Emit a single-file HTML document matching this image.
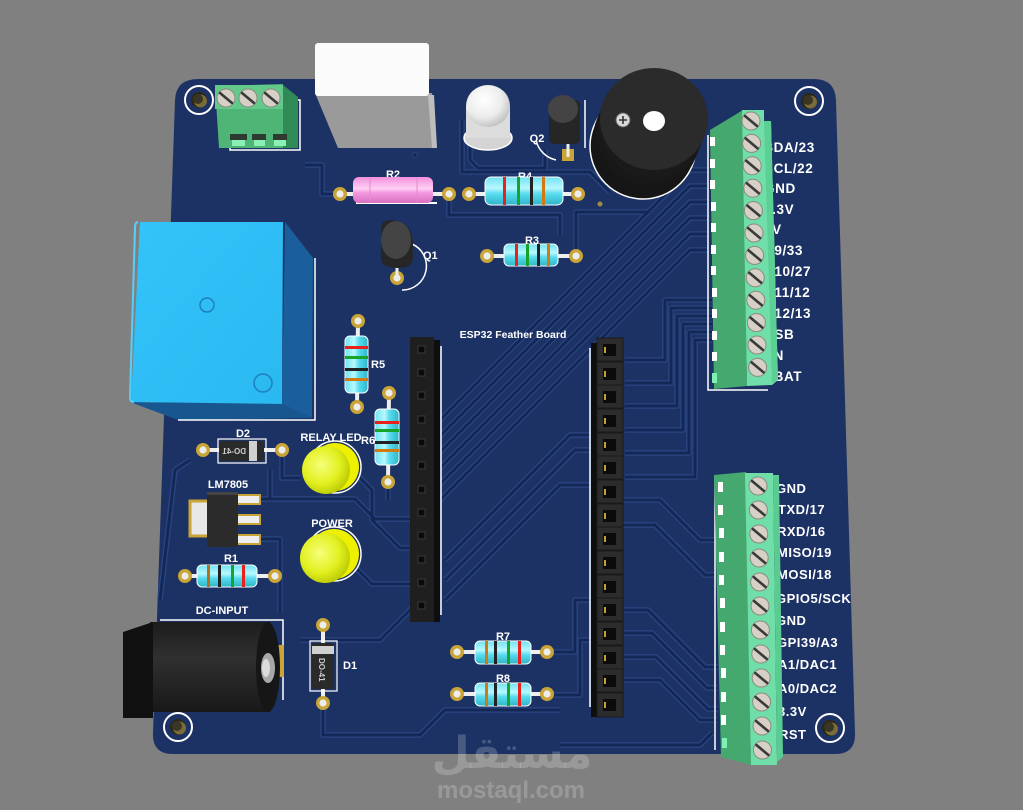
<!DOCTYPE html>
<html><head><meta charset="utf-8">
<style>
html,body{margin:0;padding:0;background:#808080;}
svg{display:block}
text{font-family:"Liberation Sans","DejaVu Sans",sans-serif;font-weight:bold;fill:#fff}
</style></head>
<body>
<svg width="1023" height="810" viewBox="0 0 1023 810" xmlns="http://www.w3.org/2000/svg">
<defs>
  <linearGradient id="rh" x1="0" y1="0" x2="0" y2="1">
    <stop offset="0" stop-color="#6fe2f0"/><stop offset="0.4" stop-color="#b8f8ff"/>
    <stop offset="0.6" stop-color="#58dcef"/><stop offset="1" stop-color="#2fb4c8"/>
  </linearGradient>
  <linearGradient id="rv" x1="0" y1="0" x2="1" y2="0">
    <stop offset="0" stop-color="#6fe2f0"/><stop offset="0.4" stop-color="#b8f8ff"/>
    <stop offset="0.6" stop-color="#58dcef"/><stop offset="1" stop-color="#2fb4c8"/>
  </linearGradient>
  <linearGradient id="pk" x1="0" y1="0" x2="0" y2="1">
    <stop offset="0" stop-color="#f190dc"/><stop offset="0.45" stop-color="#ffd0f4"/>
    <stop offset="0.6" stop-color="#f49ae2"/><stop offset="1" stop-color="#d870c0"/>
  </linearGradient>
  <radialGradient id="yl" cx="0.4" cy="0.4" r="0.65">
    <stop offset="0" stop-color="#f6ff7a"/><stop offset="0.6" stop-color="#e2f020"/><stop offset="1" stop-color="#b8c800"/>
  </radialGradient>
  <radialGradient id="wl" cx="0.4" cy="0.35" r="0.7">
    <stop offset="0" stop-color="#ffffff"/><stop offset="0.6" stop-color="#ececec"/><stop offset="1" stop-color="#bdbdbd"/>
  </radialGradient>
  <linearGradient id="cyl" x1="0" y1="0" x2="0" y2="1">
    <stop offset="0" stop-color="#1c1c1c"/><stop offset="0.4" stop-color="#303030"/><stop offset="1" stop-color="#181818"/>
  </linearGradient>
  <linearGradient id="relay" x1="0" y1="0" x2="1" y2="1">
    <stop offset="0" stop-color="#33c4fa"/><stop offset="1" stop-color="#2ab8f0"/>
  </linearGradient>
  <g id="screw"><circle r="9" fill="#d6d0c6" stroke="#8d8a80" stroke-width="1"/><line x1="-6" y1="-5" x2="6" y2="5" stroke="#3a3a3a" stroke-width="2.6" stroke-linecap="round"/></g>
  <g id="pad"><circle r="7" fill="#c9a437"/><circle r="3.6" fill="#ececec"/></g>
  <g id="hole"><circle r="14" fill="#1c3265" stroke="#ffffff" stroke-width="2"/><circle r="8" fill="#2a2818"/><circle cx="1.5" cy="1" r="6.5" fill="#7a6c38"/><circle cx="-1" cy="-1" r="5" fill="#3a3626"/></g>
  <g id="traces">
    <path d="M440,420 L690,170 H709"/>
    <path d="M440,436 L690,186 H709"/>
    <path d="M440,452 L690,202 H709"/>
    <path d="M440,468 L690,218 H709"/>
    <path d="M440,484 L690,234 H709"/>
    <path d="M440,500 L690,250 H709"/>
    <path d="M712,300 H665 V360 H625"/>
    <path d="M712,308 H671 V383 H625"/>
    <path d="M712,316 H677 V406 H625"/>
    <path d="M712,324 H683 V430 H625"/>
    <path d="M712,332 H689 V453 H625"/>
    <path d="M712,340 H695 V477 H625"/>
    <path d="M623,500 H660 L700,540 H716"/>
    <path d="M623,525 H655 L705,575 H716"/>
    <path d="M623,610 H648 L705,667 H718"/>
    <path d="M623,633 H652 L707,688 H718"/>
    <path d="M623,657 H656 L708,709 H718"/>
    <path d="M623,680 H660 L700,720 H718"/>
    <path d="M560,745 H700 L712,733"/>
    <path d="M576,256 V212 H650"/>
    <path d="M470,110 V160 L478,168 H545 V150"/>
    <path d="M462,120 V172 H590 L610,192"/>
    <path d="M337,194 H322 V165 H305"/>
    <path d="M449,194 V215 H560 V235"/>
    <path d="M282,451 V478 H300"/>
    <path d="M258,499 H355 L375,519 H410"/>
    <path d="M258,539 H280 V612"/>
    <path d="M270,470 V498"/>
    <path d="M352,470 L372,490 V520 L400,548 H410"/>
    <path d="M350,562 L372,584 H410"/>
    <path d="M388,482 V500"/>
    <path d="M323,703 V735 H420 L445,710 H560"/>
    <path d="M300,640 H380 L420,600"/>
    <path d="M445,560 L570,435 H596"/>
    <path d="M445,580 L575,450 H596"/>
    <path d="M445,600 L560,485 H596"/>
    <path d="M548,652 H575 V600 H596"/>
    <path d="M548,695 H580 V640 H596"/>
    <path d="M160,600 L175,470 L190,460"/>
  </g>
</defs>

<rect width="1023" height="810" fill="#808080"/>

<!-- board -->
<path d="M198,79 L814,79 Q835,79 836,100 L855,733 Q856,754 835,754 L173,754 Q152,754 153,733 L175,100 Q176,79 198,79 Z" fill="#1c3265"/>

<!-- traces -->
<use href="#traces" fill="none" stroke="#2a4682" stroke-width="5.5" stroke-linejoin="round"/>
<use href="#traces" fill="none" stroke="#142858" stroke-width="3" stroke-linejoin="round"/>

<!-- mounting holes -->
<use href="#hole" x="199" y="100"/>
<use href="#hole" x="809" y="101"/>
<use href="#hole" x="178" y="727"/>
<use href="#hole" x="830" y="728"/>

<!-- top-left terminal block -->
<rect x="230" y="100" width="70" height="50" fill="none" stroke="#fff" stroke-width="1.5"/>
<polygon points="283,85 298,97 298,148 283,148" fill="#2f8a55"/>
<polygon points="215,86 283,84 283,148 219,148" fill="#4fb577"/>
<rect x="215" y="85" width="68" height="24" fill="#62c98a"/>
<use href="#screw" x="226" y="98"/>
<use href="#screw" x="248" y="98"/>
<use href="#screw" x="271" y="98"/>
<rect x="230" y="134" width="17" height="6" fill="#2e3a32"/>
<rect x="252" y="134" width="14" height="6" fill="#2e3a32"/>
<rect x="273" y="134" width="14" height="6" fill="#2e3a32"/>
<rect x="232" y="140" width="13" height="6" fill="#8af0b4"/>
<rect x="254" y="140" width="11" height="6" fill="#8af0b4"/>
<rect x="274" y="140" width="12" height="6" fill="#8af0b4"/>

<!-- white box component -->
<polygon points="315,93 432,93 437,148 338,148" fill="#9a9a9a"/>
<polygon points="428,95 434,95 437,148 432,148" fill="#bdbdbd"/>
<rect x="315" y="43" width="114" height="53" rx="3" fill="#fbfbfb"/>
<circle cx="415" cy="155" r="2.5" fill="#142858" stroke="#2a4682"/>

<!-- white LED -->
<ellipse cx="488" cy="138" rx="24" ry="12" fill="#d4d4d4" stroke="#ffffff" stroke-width="1.5"/>
<rect x="466" y="106" width="44" height="32" fill="#dcdcdc"/>
<ellipse cx="488" cy="106" rx="22" ry="21" fill="url(#wl)"/>

<!-- Q2 -->
<path d="M536,140 A26,26 0 0 0 556,160" fill="none" stroke="#fff" stroke-width="1.5"/>
<line x1="585" y1="100" x2="585" y2="148" stroke="#fff" stroke-width="1.5"/>
<rect x="562" y="149" width="12" height="12" fill="#c9a437"/>
<line x1="568" y1="140" x2="568" y2="157" stroke="#eee" stroke-width="3"/>
<rect x="549" y="100" width="31" height="44" rx="5" fill="#262626"/>
<ellipse cx="563" cy="109" rx="15" ry="14" fill="#444"/>
<text x="537" y="142" font-size="11" text-anchor="middle">Q2</text>

<!-- buzzer -->
<circle cx="643" cy="146" r="53" fill="#161616" stroke="#ffffff" stroke-width="1.5"/>
<circle cx="646" cy="139" r="53" fill="#161616"/>
<circle cx="649" cy="132" r="53" fill="#181818"/>
<circle cx="652" cy="125" r="53" fill="#1a1a1a"/>
<ellipse cx="654" cy="119" rx="54" ry="51" fill="#2b2b2b"/>
<ellipse cx="654" cy="121" rx="11" ry="10" fill="#ffffff"/>
<circle cx="623" cy="120" r="7" fill="#d9d9d9" stroke="#666" stroke-width="1"/>
<path d="M619,120 H627 M623,116 V124" stroke="#333" stroke-width="1.6"/>
<circle cx="600" cy="204" r="2.5" fill="#a08a40"/>

<!-- R2 pink -->
<line x1="340" y1="194" x2="449" y2="194" stroke="#eee" stroke-width="4"/>
<use href="#pad" x="340" y="194"/>
<use href="#pad" x="449" y="194"/>
<text x="393" y="178" font-size="11" text-anchor="middle">R2</text>
<rect x="356" y="202" width="81" height="2" fill="#fff"/>
<rect x="353" y="177" width="80" height="26" rx="6" fill="url(#pk)"/>
<line x1="370" y1="178" x2="370" y2="202" stroke="#e48ad2" stroke-width="1"/>
<line x1="417" y1="178" x2="417" y2="202" stroke="#e48ad2" stroke-width="1"/>

<!-- R4 -->
<line x1="469" y1="194" x2="578" y2="194" stroke="#eee" stroke-width="4"/>
<use href="#pad" x="469" y="194"/>
<use href="#pad" x="578" y="194"/>
<text x="525" y="180" font-size="11" text-anchor="middle">R4</text>
<rect x="485" y="177" width="78" height="28" rx="6" fill="url(#rh)" stroke="#fff" stroke-width="1"/>
<rect x="503" y="177" width="3" height="28" fill="#e8221a"/>
<rect x="517" y="177" width="3" height="28" fill="#16a528"/>
<rect x="530" y="177" width="3" height="28" fill="#222"/>
<rect x="542" y="177" width="3" height="28" fill="#d07a10"/>

<!-- R3 -->
<line x1="487" y1="256" x2="576" y2="256" stroke="#eee" stroke-width="4"/>
<use href="#pad" x="487" y="256"/>
<use href="#pad" x="576" y="256"/>
<text x="532" y="244" font-size="11" text-anchor="middle">R3</text>
<rect x="504" y="244" width="54" height="22" rx="5" fill="url(#rh)" stroke="#fff" stroke-width="1"/>
<rect x="515" y="244" width="3" height="22" fill="#e8221a"/>
<rect x="526" y="244" width="3" height="22" fill="#16a528"/>
<rect x="537" y="244" width="3" height="22" fill="#222"/>
<rect x="547" y="244" width="3" height="22" fill="#d07a10"/>

<!-- Relay -->
<polygon points="130,402 282,404 312,418 178,420" fill="#18568f"/>
<polygon points="285,222 313,258 312,418 282,404" fill="#1a5e9c"/>
<polygon points="140,222 283,222 282,404 131,402" fill="url(#relay)"/>
<path d="M138,222 Q135,222 135,228 L130,398 Q130,402 134,402" fill="none" stroke="#55d0fb" stroke-width="2"/>
<circle cx="207" cy="305" r="7" fill="none" stroke="#1d7fc0" stroke-width="1.5"/>
<circle cx="263" cy="383" r="9" fill="none" stroke="#1d7fc0" stroke-width="1.5"/>
<path d="M315,258 V420 H178" fill="none" stroke="#fff" stroke-width="1.5"/>

<!-- Q1 -->
<path d="M412,244 A24,24 0 0 1 402,290" fill="none" stroke="#fff" stroke-width="1.5"/>
<use href="#pad" x="397" y="278"/>
<line x1="397" y1="262" x2="397" y2="276" stroke="#eee" stroke-width="3"/>
<path d="M381,228 Q381,220 392,220 Q413,222 413,245 L413,258 Q413,268 398,268 Q381,268 381,258 Z" fill="#262626"/>
<ellipse cx="396" cy="240" rx="15" ry="19" fill="#444"/>
<text x="423" y="259" font-size="11">Q1</text>

<!-- R5 -->
<line x1="358" y1="321" x2="357" y2="407" stroke="#eee" stroke-width="4"/>
<use href="#pad" x="358" y="321"/>
<use href="#pad" x="357" y="407"/>
<rect x="345" y="336" width="23" height="57" rx="5" fill="url(#rv)" stroke="#fff" stroke-width="1"/>
<rect x="345" y="346" width="23" height="3" fill="#e8221a"/>
<rect x="345" y="356" width="23" height="3" fill="#16a528"/>
<rect x="345" y="368" width="23" height="3" fill="#222"/>
<rect x="345" y="378" width="23" height="3" fill="#d07a10"/>
<text x="371" y="368" font-size="11">R5</text>

<!-- R6 -->
<line x1="389" y1="393" x2="388" y2="482" stroke="#eee" stroke-width="4"/>
<use href="#pad" x="389" y="393"/>
<use href="#pad" x="388" y="482"/>
<rect x="375" y="409" width="24" height="56" rx="5" fill="url(#rv)" stroke="#fff" stroke-width="1"/>
<rect x="375" y="421" width="24" height="3" fill="#e8221a"/>
<rect x="375" y="429" width="24" height="3" fill="#16a528"/>
<rect x="375" y="441" width="24" height="3" fill="#222"/>
<rect x="375" y="449" width="24" height="3" fill="#d07a10"/>
<text x="361" y="444" font-size="11">R6</text>

<!-- D2 -->
<line x1="203" y1="450" x2="282" y2="450" stroke="#eee" stroke-width="4"/>
<use href="#pad" x="203" y="450"/>
<use href="#pad" x="282" y="450"/>
<text x="243" y="437" font-size="11" text-anchor="middle">D2</text>
<rect x="218" y="439" width="48" height="24" fill="none" stroke="#fff" stroke-width="1.2"/>
<rect x="219" y="441" width="45" height="20" rx="3" fill="#2a2a2a"/>
<rect x="249" y="441" width="8" height="20" fill="#d0d0d0"/>
<text transform="translate(246,454) scale(-1,1)" font-size="8" font-weight="normal" style="fill:#ccc">DO-41</text>

<!-- Relay LED -->
<circle cx="335" cy="467" r="26" fill="none" stroke="#fff" stroke-width="1.5"/>
<circle cx="335" cy="467" r="24" fill="#eef000"/>
<circle cx="326" cy="470" r="24" fill="url(#yl)"/>
<text x="331" y="441" font-size="11" text-anchor="middle">RELAY LED</text>

<!-- Power LED -->
<circle cx="334" cy="554" r="27" fill="none" stroke="#fff" stroke-width="1.5"/>
<circle cx="334" cy="554" r="25" fill="#eef000"/>
<circle cx="325" cy="558" r="25" fill="url(#yl)"/>
<text x="332" y="527" font-size="11" text-anchor="middle">POWER</text>

<!-- LM7805 -->
<text x="228" y="488" font-size="11" text-anchor="middle">LM7805</text>
<rect x="190" y="501" width="19" height="35" fill="#e8e8e8" stroke="#c9a437" stroke-width="3"/>
<rect x="236" y="495" width="24" height="9" fill="#eee" stroke="#c9a437" stroke-width="2"/>
<rect x="236" y="515" width="24" height="9" fill="#eee" stroke="#c9a437" stroke-width="2"/>
<rect x="236" y="535" width="24" height="9" fill="#eee" stroke="#c9a437" stroke-width="2"/>
<rect x="207" y="492" width="31" height="55" fill="#2b2b2b"/>
<rect x="207" y="492" width="31" height="3" fill="#444"/>

<!-- R1 -->
<line x1="185" y1="576" x2="275" y2="576" stroke="#eee" stroke-width="4"/>
<use href="#pad" x="185" y="576"/>
<use href="#pad" x="275" y="576"/>
<text x="231" y="562" font-size="11" text-anchor="middle">R1</text>
<rect x="197" y="565" width="60" height="22" rx="5" fill="url(#rh)" stroke="#fff" stroke-width="1"/>
<rect x="207" y="565" width="3" height="22" fill="#b0701c"/>
<rect x="218" y="565" width="3" height="22" fill="#222"/>
<rect x="231" y="565" width="3" height="22" fill="#16a528"/>
<rect x="242" y="565" width="3" height="22" fill="#e8221a"/>

<!-- DC input -->
<text x="222" y="614" font-size="11" text-anchor="middle">DC-INPUT</text>
<path d="M160,620 H283 V700" fill="none" stroke="#fff" stroke-width="1.5"/>
<rect x="276" y="645" width="8" height="32" fill="#c9a437"/>
<rect x="150" y="622" width="120" height="90" fill="url(#cyl)"/>
<ellipse cx="268" cy="667" rx="12" ry="45" fill="#161616"/>
<ellipse cx="268" cy="668" rx="7" ry="15" fill="#a8a8a8"/>
<ellipse cx="266" cy="668" rx="4" ry="9" fill="#dcdcdc"/>
<polygon points="123,632 153,622 153,718 123,718" fill="#111"/>

<!-- D1 -->
<line x1="323" y1="625" x2="323" y2="703" stroke="#eee" stroke-width="4"/>
<use href="#pad" x="323" y="625"/>
<use href="#pad" x="323" y="703"/>
<rect x="310" y="641" width="27" height="50" fill="none" stroke="#fff" stroke-width="1.2"/>
<rect x="312" y="643" width="22" height="46" rx="3" fill="#2a2a2a"/>
<rect x="312" y="646" width="22" height="8" fill="#d0d0d0"/>
<text transform="translate(319,658) rotate(90)" font-size="8" font-weight="normal" style="fill:#ccc">DO-41</text>
<text x="343" y="669" font-size="11">D1</text>

<!-- ESP32 label -->
<text x="513" y="338" font-size="10.5" text-anchor="middle">ESP32 Feather Board</text>

<!-- left header -->
<line x1="441" y1="346" x2="441" y2="615" stroke="#fff" stroke-width="1.5"/>
<rect x="433" y="340" width="7" height="282" fill="#0e0e0e"/>
<rect x="410" y="337" width="24" height="285" fill="#1f1f1f"/>
<g fill="#0a0a0a" stroke="#3a3a3a" stroke-width="1">
<rect x="418" y="346" width="7" height="7"/><rect x="418" y="369" width="7" height="7"/>
<rect x="418" y="392" width="7" height="7"/><rect x="418" y="416" width="7" height="7"/>
<rect x="418" y="439" width="7" height="7"/><rect x="418" y="462" width="7" height="7"/>
<rect x="418" y="486" width="7" height="7"/><rect x="418" y="509" width="7" height="7"/>
<rect x="418" y="532" width="7" height="7"/><rect x="418" y="556" width="7" height="7"/>
<rect x="418" y="579" width="7" height="7"/><rect x="418" y="602" width="7" height="7"/>
</g>

<!-- right header -->
<line x1="590" y1="348" x2="590" y2="707" stroke="#fff" stroke-width="1.5"/>
<rect x="591" y="343" width="7" height="374" fill="#0e0e0e"/>
<g>
<g fill="#2c2c2c" stroke="#1a1a1a" stroke-width="1">
<rect x="597" y="338" width="26" height="23"/><rect x="597" y="362" width="26" height="23"/>
<rect x="597" y="385" width="26" height="23"/><rect x="597" y="409" width="26" height="23"/>
<rect x="597" y="433" width="26" height="23"/><rect x="597" y="456" width="26" height="23"/>
<rect x="597" y="480" width="26" height="23"/><rect x="597" y="504" width="26" height="23"/>
<rect x="597" y="527" width="26" height="23"/><rect x="597" y="551" width="26" height="23"/>
<rect x="597" y="575" width="26" height="23"/><rect x="597" y="598" width="26" height="23"/>
<rect x="597" y="622" width="26" height="23"/><rect x="597" y="646" width="26" height="23"/>
<rect x="597" y="669" width="26" height="23"/><rect x="597" y="693" width="26" height="24"/>
</g>
<g fill="#0b0b0b">
<rect x="603" y="344" width="13" height="12"/><rect x="603" y="368" width="13" height="12"/>
<rect x="603" y="391" width="13" height="12"/><rect x="603" y="415" width="13" height="12"/>
<rect x="603" y="439" width="13" height="12"/><rect x="603" y="462" width="13" height="12"/>
<rect x="603" y="486" width="13" height="12"/><rect x="603" y="510" width="13" height="12"/>
<rect x="603" y="533" width="13" height="12"/><rect x="603" y="557" width="13" height="12"/>
<rect x="603" y="581" width="13" height="12"/><rect x="603" y="604" width="13" height="12"/>
<rect x="603" y="628" width="13" height="12"/><rect x="603" y="652" width="13" height="12"/>
<rect x="603" y="675" width="13" height="12"/><rect x="603" y="699" width="13" height="12"/>
</g>
<g fill="#c8a030">
<rect x="604" y="347" width="2" height="6"/><rect x="604" y="371" width="2" height="6"/>
<rect x="604" y="394" width="2" height="6"/><rect x="604" y="418" width="2" height="6"/>
<rect x="604" y="442" width="2" height="6"/><rect x="604" y="465" width="2" height="6"/>
<rect x="604" y="489" width="2" height="6"/><rect x="604" y="513" width="2" height="6"/>
<rect x="604" y="536" width="2" height="6"/><rect x="604" y="560" width="2" height="6"/>
<rect x="604" y="584" width="2" height="6"/><rect x="604" y="607" width="2" height="6"/>
<rect x="604" y="631" width="2" height="6"/><rect x="604" y="655" width="2" height="6"/>
<rect x="604" y="678" width="2" height="6"/><rect x="604" y="702" width="2" height="6"/>
</g>
</g>

<!-- R7 -->
<line x1="457" y1="652" x2="547" y2="652" stroke="#eee" stroke-width="4"/>
<use href="#pad" x="457" y="652"/>
<use href="#pad" x="547" y="652"/>
<text x="503" y="640" font-size="11" text-anchor="middle">R7</text>
<rect x="475" y="641" width="56" height="23" rx="5" fill="url(#rh)" stroke="#fff" stroke-width="1"/>
<rect x="485" y="641" width="3" height="23" fill="#d07a10"/>
<rect x="494" y="641" width="3" height="23" fill="#222"/>
<rect x="507" y="641" width="3" height="23" fill="#16a528"/>
<rect x="518" y="641" width="3" height="23" fill="#e8221a"/>

<!-- R8 -->
<line x1="457" y1="694" x2="547" y2="694" stroke="#eee" stroke-width="4"/>
<use href="#pad" x="457" y="694"/>
<use href="#pad" x="547" y="694"/>
<text x="503" y="682" font-size="11" text-anchor="middle">R8</text>
<rect x="475" y="683" width="56" height="23" rx="5" fill="url(#rh)" stroke="#fff" stroke-width="1"/>
<rect x="485" y="683" width="3" height="23" fill="#d07a10"/>
<rect x="494" y="683" width="3" height="23" fill="#222"/>
<rect x="507" y="683" width="3" height="23" fill="#16a528"/>
<rect x="518" y="683" width="3" height="23" fill="#e8221a"/>

<!-- top right terminal labels -->
<g font-size="13.5" style="letter-spacing:0.6px">
<text x="764" y="152">SDA/23</text>
<text x="764" y="173">SCL/22</text>
<text x="764" y="193">GND</text>
<text x="764" y="214">3.3V</text>
<text x="764" y="234">5V</text>
<text x="764" y="255">A9/33</text>
<text x="764" y="276">A10/27</text>
<text x="764" y="297">A11/12</text>
<text x="764" y="318">A12/13</text>
<text x="764" y="339">USB</text>
<text x="764" y="360">EN</text>
<text x="764" y="381">VBAT</text>
</g>

<!-- top right terminal block -->
<path d="M708,135 V390 H768" fill="none" stroke="#fff" stroke-width="1.5"/>
<polygon points="710,130 743,110 747,386 714,389" fill="#45a86f"/>
<g fill="#ffffff">
<rect x="710" y="137" width="5" height="9"/><rect x="710" y="159" width="5" height="9"/>
<rect x="710" y="180" width="5" height="9"/><rect x="711" y="202" width="5" height="9"/>
<rect x="711" y="223" width="5" height="9"/><rect x="711" y="245" width="5" height="9"/>
<rect x="711" y="266" width="5" height="9"/><rect x="712" y="288" width="5" height="9"/>
<rect x="712" y="309" width="5" height="9"/><rect x="712" y="331" width="5" height="9"/>
<rect x="712" y="352" width="5" height="9"/>
</g>
<rect x="712" y="373" width="5" height="10" fill="#7ef0b0"/>
<polygon points="742,110 764,110 764,121 771,121 778,380 772,385 747,386" fill="#70dea8"/>
<polygon points="764,121 771,121 778,380 772,383" fill="#5ccf95"/>
<use href="#screw" x="751" y="121"/>
<use href="#screw" x="751.6" y="143.4"/>
<use href="#screw" x="752.2" y="165.8"/>
<use href="#screw" x="752.8" y="188.2"/>
<use href="#screw" x="753.4" y="210.6"/>
<use href="#screw" x="754" y="233"/>
<use href="#screw" x="754.6" y="255.4"/>
<use href="#screw" x="755.2" y="277.8"/>
<use href="#screw" x="755.8" y="300.2"/>
<use href="#screw" x="756.4" y="322.6"/>
<use href="#screw" x="757" y="345"/>
<use href="#screw" x="757.6" y="367.4"/>

<!-- bottom right terminal labels -->
<g font-size="13" style="letter-spacing:0.5px">
<text x="776" y="493">GND</text>
<text x="778" y="514">TXD/17</text>
<text x="777" y="536">RXD/16</text>
<text x="777" y="557">MISO/19</text>
<text x="777" y="579">MOSI/18</text>
<text x="776" y="603">GPIO5/SCK</text>
<text x="776" y="625">GND</text>
<text x="777" y="647">GPI39/A3</text>
<text x="778" y="669">A1/DAC1</text>
<text x="778" y="693">A0/DAC2</text>
<text x="778" y="716">3.3V</text>
<text x="779" y="739">RST</text>
</g>

<!-- bottom right terminal block -->
<path d="M715,476 V750" fill="none" stroke="#fff" stroke-width="1.5"/>
<polygon points="714,475 746,472 751,765 721,757" fill="#45a86f"/>
<g fill="#ffffff">
<rect x="718" y="482" width="5" height="10"/><rect x="718" y="505" width="5" height="10"/>
<rect x="719" y="528" width="5" height="10"/><rect x="719" y="552" width="5" height="10"/>
<rect x="719" y="575" width="5" height="10"/><rect x="720" y="598" width="5" height="10"/>
<rect x="720" y="622" width="5" height="10"/><rect x="720" y="645" width="5" height="10"/>
<rect x="721" y="668" width="5" height="10"/><rect x="721" y="692" width="5" height="10"/>
<rect x="721" y="715" width="5" height="10"/>
</g>
<rect x="722" y="738" width="5" height="10" fill="#7ef0b0"/>
<polygon points="745,473 773,473 777,765 751,765" fill="#70dea8"/>
<polygon points="773,475 779,475 783,757 777,762" fill="#5acc92"/>
<use href="#screw" x="758" y="486"/>
<use href="#screw" x="758.4" y="510"/>
<use href="#screw" x="758.8" y="534"/>
<use href="#screw" x="759.2" y="558"/>
<use href="#screw" x="759.6" y="582"/>
<use href="#screw" x="760" y="606"/>
<use href="#screw" x="760.4" y="630"/>
<use href="#screw" x="760.8" y="654"/>
<use href="#screw" x="761.2" y="678"/>
<use href="#screw" x="761.6" y="702"/>
<use href="#screw" x="762" y="726"/>
<use href="#screw" x="762.4" y="750"/>

<!-- watermark -->
<text x="512" y="768" font-size="44" text-anchor="middle" style="font-family:'DejaVu Sans',sans-serif;fill:#ffffff;fill-opacity:0.2">مستقل</text>
<text x="511" y="798" font-size="24" text-anchor="middle" style="fill:#ffffff;fill-opacity:0.2">mostaql.com</text>
</svg>
</body></html>
